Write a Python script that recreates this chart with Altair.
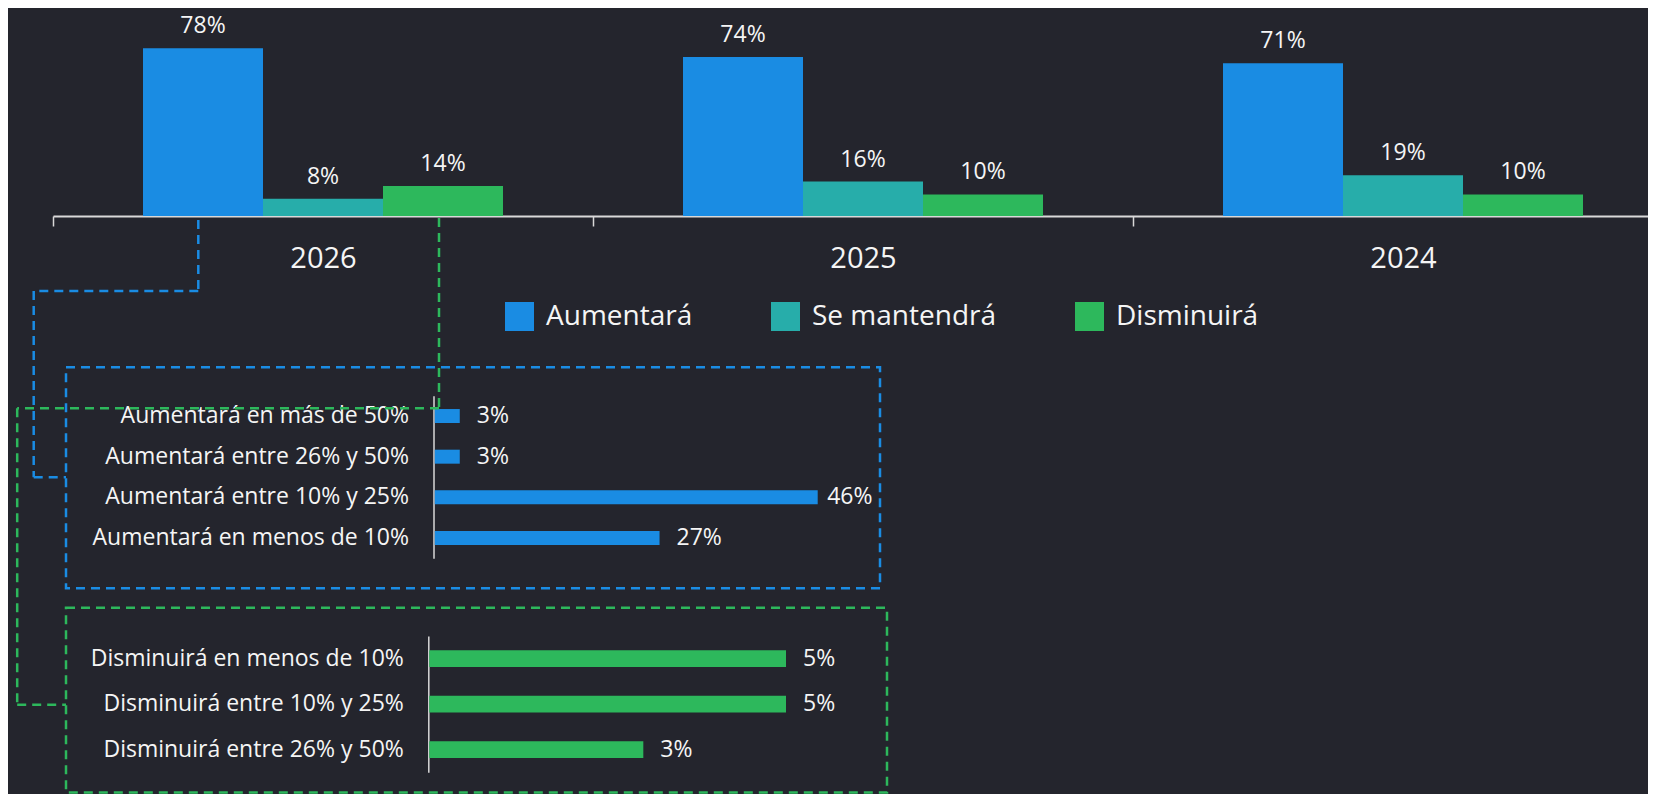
import altair as alt
import pandas as pd

# ---------------- data ----------------
years = ["2026", "2025", "2024"]
series = ["Aumentará", "Se mantendrá", "Disminuirá"]
aumentara = [78, 74, 71]
se_mantendra = [8, 16, 19]
disminuira = [14, 10, 10]

aum_labels = [
    "Aumentará en más de 50%",
    "Aumentará entre 26% y 50%",
    "Aumentará entre 10% y 25%",
    "Aumentará en menos de 10%",
]
aum_values = [3, 3, 46, 27]

dis_labels = [
    "Disminuirá en menos de 10%",
    "Disminuirá entre 10% y 25%",
    "Disminuirá entre 26% y 50%",
]
dis_values = [5, 5, 3]

# ---------------- style ----------------
colors = ["#1a8ce3", "#27adaa", "#2db85c"]
BG = "#24252d"
TXT = "#f5f5f5"
AXIS = "#d9d9d9"
FONT = "Open Sans"
W, H = 1640, 786

rows = []
for i, yr in enumerate(years):
    for s, vals in zip(series, [aumentara, se_mantendra, disminuira]):
        rows.append({"year": yr, "serie": s, "value": vals[i]})
top_df = pd.DataFrame(rows)
aum_df = pd.DataFrame({"cat": aum_labels, "value": aum_values})
dis_df = pd.DataFrame({"cat": dis_labels, "value": dis_values})

# ---------------- top grouped bars ----------------
x_top = alt.X(
    "year:N", sort=years, title=None,
    scale=alt.Scale(domain=years, range=[45, 1665], paddingInner=0, paddingOuter=0),
    axis=alt.Axis(orient="bottom", offset=-578, domainColor=AXIS, domainWidth=2,
                  tickColor=AXIS, tickWidth=1.5, tickSize=10, tickBand="extent",
                  labelFontSize=29, labelColor=TXT, labelFont=FONT, labelPadding=18,
                  labelAngle=0, grid=False),
)
xoff = alt.XOffset("serie:N", sort=series,
                   scale=alt.Scale(domain=series, paddingInner=0, paddingOuter=0.75))
y_top = alt.Y("value:Q", title=None,
              scale=alt.Scale(domain=[0, 96.74], range=[208, 0], nice=False, zero=True),
              axis=None)
color = alt.Color(
    "serie:N", sort=series,
    scale=alt.Scale(domain=series, range=colors),
    legend=alt.Legend(title=None, orient="none", legendX=497, legendY=294,
                      direction="horizontal", symbolType="square", symbolSize=841,
                      symbolStrokeWidth=0, symbolOpacity=1, labelFontSize=28,
                      labelColor=TXT, labelFont=FONT, labelOffset=12,
                      columnPadding=78, padding=0, labelLimit=400),
)

top_bars = alt.Chart(top_df).mark_bar().encode(x=x_top, xOffset=xoff, y=y_top, color=color)
top_text = (
    alt.Chart(top_df)
    .transform_calculate(label="datum.value + '%'")
    .mark_text(dy=-15, baseline="alphabetic", align="center", fontSize=23, font=FONT, color=TXT)
    .encode(x=x_top, xOffset=xoff, y=y_top, text="label:N")
)
top = alt.layer(top_bars, top_text)


# ---------------- small horizontal bar charts ----------------
def small_chart(df, labels, yrange, pin, pout, axis_x, xdomain, xrange, col, label_max):
    y = alt.Y("cat:N", sort=labels, title=None,
              scale=alt.Scale(domain=labels, range=yrange, paddingInner=pin, paddingOuter=pout),
              axis=alt.Axis(orient="left", offset=-axis_x, domainColor=AXIS, domainWidth=1.5,
                            ticks=False, tickSize=0, labelFontSize=23, labelColor=TXT,
                            labelFont=FONT, labelPadding=25, labelLimit=600, grid=False))
    xscale = alt.Scale(domain=xdomain, range=xrange, nice=False, zero=True)
    bars = alt.Chart(df).mark_bar(color=col).encode(
        x=alt.X("value:Q", title=None, scale=xscale, axis=None), y=y)
    # value labels sit just right of the bar, kept inside the dashed frame
    txt = (
        alt.Chart(df)
        .transform_calculate(label="datum.value + '%'",
                             pos=f"min(datum.value, {label_max})")
        .mark_text(align="left", baseline="middle", dx=17, fontSize=23, font=FONT, color=TXT)
        .encode(x=alt.X("pos:Q", title=None, scale=xscale, axis=None), y=y, text="label:N")
    )
    return alt.layer(bars, txt)


aum = small_chart(aum_df, aum_labels, [387.7, 550.3], 0.656, 0.328, 425.5,
                  [0, 100], [426.8, 1259.2], colors[0], 45.1)
dis = small_chart(dis_df, dis_labels, [628, 764.3], 0.632, 0.316, 420.3,
                  [0, 10], [421.3, 1134.7], colors[2], 10)

# ---------------- dashed boxes and connectors ----------------
dummy = pd.DataFrame({"d": [0]})
DASH = [9, 6]
SW = 2.5


def box(x1, x2, y1, y2, col):
    return alt.Chart(dummy).mark_rect(fillOpacity=0, stroke=col, strokeWidth=SW,
                                      strokeDash=DASH).encode(
        x=alt.value(x1), x2=alt.value(x2), y=alt.value(y1), y2=alt.value(y2))


def seg(x1, y1, x2, y2, col):
    return alt.Chart(dummy).mark_rule(color=col, strokeWidth=SW, strokeDash=DASH).encode(
        x=alt.value(x1), x2=alt.value(x2), y=alt.value(y1), y2=alt.value(y2))


deco_parts = [
    box(58, 872, 359.3, 580.3, colors[0]),
    box(58, 879, 599.7, 784.5, colors[2]),
]
blue_path = [(190.3, 212), (190.3, 283), (25.7, 283), (25.7, 469.3), (58, 469.3)]
green_path = [(431, 210), (431, 400.3), (9.2, 400.3), (9.2, 696.7), (58, 696.7)]
for path, col in [(blue_path, colors[0]), (green_path, colors[2])]:
    for (a, b), (c, d) in zip(path[:-1], path[1:]):
        deco_parts.append(seg(a, b, c, d, col))
deco = alt.layer(*deco_parts)

chart = (
    alt.layer(top, aum, dis, deco)
    .resolve_scale(x="independent", y="independent")
    .resolve_axis(x="independent", y="independent")
    .properties(width=W, height=H, autosize=alt.AutoSizeParams(type="none"), padding=0)
    .configure(background=BG, font=FONT)
    .configure_view(stroke=None)
)

chart.save("out.html", embed_options={"renderer": "svg", "actions": False})
